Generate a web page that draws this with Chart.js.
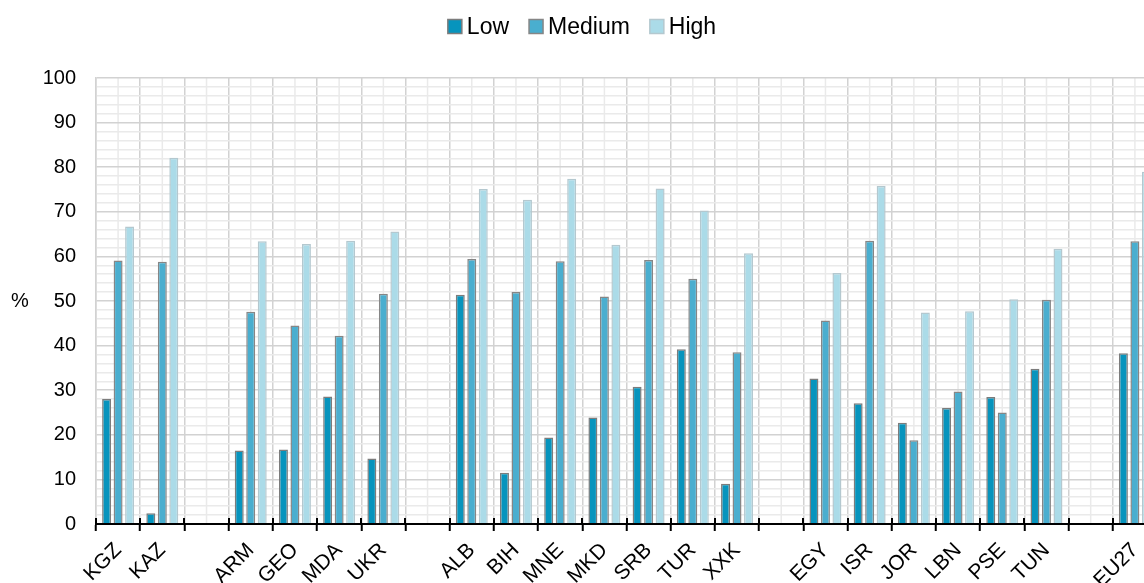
<!DOCTYPE html>
<html>
<head>
<meta charset="utf-8">
<script src="https://cdn.jsdelivr.net/npm/chart.js@4"></script>
<style>
  html, body { margin: 0; padding: 0; background: #fff; overflow: hidden; }
  #wrap { width: 1164px; height: 583px; position: relative; }
</style>
</head>
<body>
<div id="wrap"><canvas id="c"></canvas></div>
<script>
const categories = ['KGZ','KAZ','','ARM','GEO','MDA','UKR','','ALB','BIH','MNE','MKD','SRB','TUR','XXK','','EGY','ISR','JOR','LBN','PSE','TUN','','EU27'];
const seriesNames = ['Low','Medium','High'];
const lowValues    = [28.0, 2.4, null, 16.5, 16.7, 28.6, 14.7, null, 51.4, 11.5, 19.4, 23.9, 30.8, 39.2,  9.0, null, 32.6, 27.1, 22.7, 26.0, 28.5, 34.8, null, 38.3];
const mediumValues = [59.1, 58.8, null, 47.6, 44.5, 42.2, 51.6, null, 59.4, 52.0, 58.9, 51.0, 59.2, 55.0, 38.5, null, 45.6, 63.5, 18.8, 29.7, 25.0, 50.3, null, 63.4];
const highValues   = [66.7, 82.1, null, 63.4, 62.8, 63.5, 65.6, null, 75.1, 72.7, 77.4, 62.6, 75.2, 70.3, 60.7, null, 56.3, 75.8, 47.4, 47.7, 50.4, 61.7, null, 79.0];
const yTicks = [0,10,20,30,40,50,60,70,80,90,100];
const yUnit = '%';

const FONT = "'Liberation Sans', Arial, sans-serif";
const MAJOR = '#d2d2d2';
const MINOR = '#eaeaea';

const extras = {
  id: 'extras',
  beforeDraw(chart) {
    const ctx = chart.ctx, x = chart.scales.x, a = chart.chartArea;
    ctx.save();
    ctx.strokeStyle = MINOR;
    ctx.lineWidth = 1.5;
    categories.forEach((c, i) => {
      const px = x.getPixelForValue(i);
      ctx.beginPath(); ctx.moveTo(px, a.top); ctx.lineTo(px, a.bottom); ctx.stroke();
    });
    ctx.restore();
  },
  afterDraw(chart) {
    const ctx = chart.ctx, x = chart.scales.x, y = chart.scales.y, a = chart.chartArea;
    ctx.save();
    // axis-crossing tick marks
    ctx.strokeStyle = '#000';
    ctx.lineWidth = 2;
    const w = x.width / categories.length;
    for (let i = 0; i <= categories.length; i++) {
      const px = Math.round(x.left + i * w);
      ctx.beginPath(); ctx.moveTo(px, a.bottom - 6); ctx.lineTo(px, a.bottom); ctx.stroke();
    }
    // unit label
    ctx.fillStyle = '#000';
    ctx.font = '20px ' + FONT;
    ctx.textAlign = 'center';
    ctx.textBaseline = 'middle';
    ctx.fillText(yUnit, 20, y.getPixelForValue(50));
    // legend
    const box = 14, gapBT = 5, gapItem = 20, cy = 26.5;
    ctx.font = '23px ' + FONT;
    const ds = chart.data.datasets;
    const widths = ds.map(d => ctx.measureText(d.label).width);
    const total = widths.reduce((s, v) => s + box + gapBT + v, 0) + gapItem * (ds.length - 1);
    let lx = chart.width / 2 - total / 2;
    ctx.textAlign = 'left';
    ds.forEach((d, i) => {
      ctx.fillStyle = d.backgroundColor;
      ctx.fillRect(lx, cy - box / 2, box, box);
      ctx.strokeStyle = d.borderColor;
      ctx.lineWidth = 1.5;
      ctx.strokeRect(lx, cy - box / 2, box, box);
      ctx.fillStyle = '#000';
      ctx.fillText(d.label, lx + box + gapBT, cy + 1);
      lx += box + gapBT + widths[i] + gapItem;
    });
    ctx.restore();
  }
};

new Chart(document.getElementById('c'), {
  type: 'bar',
  data: {
    labels: categories,
    datasets: [
      { label: seriesNames[0], data: lowValues, backgroundColor: '#0794bd', borderColor: '#7c7c7c', borderWidth: 1.5 },
      { label: seriesNames[1], data: mediumValues, backgroundColor: '#4aaecf', borderColor: '#868686', borderWidth: 1.5 },
      { label: seriesNames[2], data: highValues, backgroundColor: '#abdbe8', borderColor: '#b4c8cf', borderWidth: 1.5 }
    ]
  },
  options: {
    responsive: true,
    maintainAspectRatio: false,
    animation: false,
    devicePixelRatio: 1,
    datasets: { bar: { categoryPercentage: 0.78, barPercentage: 0.78 } },
    layout: { padding: { top: 78, right: 7, left: 0, bottom: 0 } },
    plugins: {
      tooltip: { enabled: false },
      legend: { display: false }
    },
    scales: {
      x: {
        offset: true,
        grid: { offset: true, color: MAJOR, lineWidth: 1.5, tickColor: '#000', tickLength: 7, tickWidth: 2, drawOnChartArea: true },
        border: { color: '#000', width: 2, z: 1 },
        ticks: { autoSkip: false, minRotation: 45, maxRotation: 45, color: '#000', padding: 7, font: { family: FONT, size: 21 } },
        afterFit(s) { s.height = 59; }
      },
      y: {
        min: 0, max: 100,
        grid: {
          drawTicks: false,
          lineWidth: 1.5,
          color: (c) => (c.tick && yTicks.includes(c.tick.value)) ? MAJOR : MINOR
        },
        border: { color: MAJOR, width: 1.5 },
        ticks: {
          stepSize: 2,
          autoSkip: false,
          padding: 20,
          color: '#000',
          font: { family: FONT, size: 20 },
          callback: (v) => yTicks.includes(v) ? String(v) : ''
        },
        afterFit(s) { s.width = 96; }
      }
    }
  },
  plugins: [extras]
});
</script>
</body>
</html>
